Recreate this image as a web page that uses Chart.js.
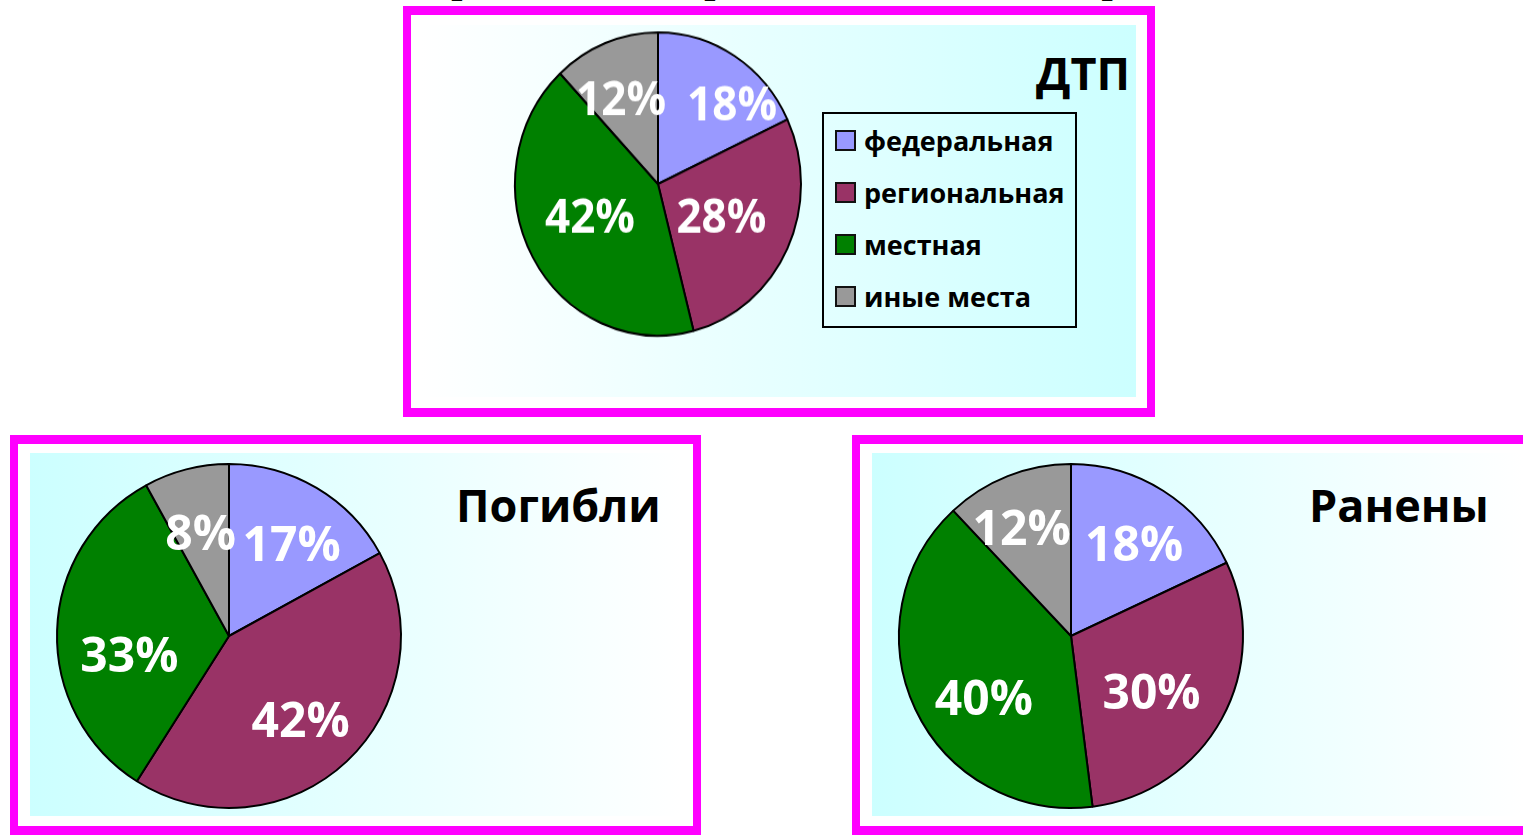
<!DOCTYPE html>
<html lang="ru">
<head>
<meta charset="utf-8">
<script src="https://cdn.jsdelivr.net/npm/chart.js@4.4.1/dist/chart.umd.min.js"></script>
<style>
  body { margin: 0; width: 1523px; height: 835px; overflow: hidden; background: #fff; position: relative; font-family: "Open Sans", sans-serif; }
  .box { position: absolute; box-sizing: border-box; border: solid #ff00ff; border-width: 9px 8px; }
  .panel { position: absolute; }
  .grad-r { background: linear-gradient(to right, #ffffff, #ccffff); }
  .grad-l { background: linear-gradient(to right, #ccffff, #ffffff); }
  canvas { position: absolute; }
  .title { position: absolute; font-weight: bold; font-size: 45px; line-height: 1; color: #000; white-space: nowrap; }
  .cut { position: absolute; font-family: "Liberation Serif", serif; font-weight: bold; font-size: 40px; line-height: 40px; height: 40px; white-space: nowrap; }
  #legend { position: absolute; left: 822px; top: 112px; width: 255px; height: 216px; box-sizing: border-box; border: 2px solid #000; }
  #legend .item { height: 52px; display: flex; align-items: center; font-weight: bold; font-size: 27px; color: #000; }
  #legend .sw { width: 17px; height: 17px; border: 2px solid #111; margin: 0 8px 0 11px; flex: none; }
</style>
</head>
<body>

<!-- заголовок, срезанный сверху -->
<div class="cut" style="right:361px; top:-41px;">Распределение аварийности по видам дорог</div>

<div class="box" style="left:403px; top:6px; width:752px; height:411px;"></div>
<div class="panel grad-r" style="left:421px; top:25px; width:715px; height:372px;"></div>

<div class="box" style="left:10px; top:435px; width:691px; height:400px;"></div>
<div class="panel grad-l" style="left:30px; top:453px; width:651px; height:363px;"></div>

<div class="box" style="left:852px; top:435px; width:700px; height:400px;"></div>
<div class="panel grad-l" style="left:872px; top:453px; width:651px; height:363px;"></div>

<canvas id="dtp" width="320" height="320" style="left:498px; top:24px; transform:scaleY(1.06); transform-origin:50% 50%;"></canvas>
<canvas id="pogibli" width="370" height="370" style="left:44px; top:451px;"></canvas>
<canvas id="raneny" width="370" height="370" style="left:886px; top:451px;"></canvas>

<div class="title" style="left:1036px; top:50px;">ДТП</div>
<div class="title" style="left:456px; top:482px;">Погибли</div>
<div class="title" style="left:1309px; top:482px;">Ранены</div>

<div id="legend"></div>

<script>
// =======================================================
// ДАННЫЕ
// =======================================================
const categories = ["федеральная", "региональная", "местная", "иные места"];
const dtpValues = [18, 28, 42, 12];
const pogibliValues = [17, 42, 33, 8];
const ranenyValues = [18, 30, 40, 12];

const colors = ["#9999ff", "#993366", "#008000", "#999999"];

// размещение подписей: доля радиуса и поворот (градусы) от середины сектора
const dtpLabelDist = [0.74, 0.49, 0.52, 0.62];
const dtpLabelShift = [12, 0, 5, -3];
const pogibliLabelDist = [0.65, 0.64, 0.59, 0.62];
const pogibliLabelShift = [3.5, 2.6, -12.7, -1];
const ranenyLabelDist = [0.65, 0.57, 0.62, 0.69];
const ranenyLabelShift = [2, 6, -10, -3];

// =======================================================
// ПОДПИСИ ПРОЦЕНТОВ
// =======================================================
const percentLabels = {
    id: "percentLabels",
    afterDatasetsDraw(chart, args, opts) {
        const ctx = chart.ctx;
        const meta = chart.getDatasetMeta(0);
        const values = chart.data.datasets[0].data;
        ctx.save();
        ctx.font = `bold ${opts.size}px "Open Sans"`;
        ctx.fillStyle = "#fff";
        ctx.textAlign = "center";
        ctx.textBaseline = "alphabetic";
        meta.data.forEach((arc, i) => {
            const p = arc.getProps(["x", "y", "startAngle", "endAngle", "outerRadius"], true);
            const a = (p.startAngle + p.endAngle) / 2 + opts.shift[i] * Math.PI / 180;
            const r = p.outerRadius * opts.dist[i];
            ctx.fillText(values[i] + "%", p.x + Math.cos(a) * r, p.y + Math.sin(a) * r + opts.size * 0.357);
        });
        ctx.restore();
    }
};

function crearPie(id, values, radius, size, dist, shift) {
    return new Chart(document.getElementById(id), {
        type: "pie",
        data: {
            labels: categories,
            datasets: [{
                data: values,
                backgroundColor: colors,
                borderColor: "#000",
                borderWidth: 2
            }]
        },
        options: {
            responsive: false,
            animation: false,
            radius: radius,
            layout: { padding: 0 },
            plugins: {
                legend: { display: false },
                tooltip: { enabled: false },
                percentLabels: { size, dist, shift }
            }
        },
        plugins: [percentLabels]
    });
}

const dtpChart = crearPie("dtp", dtpValues, 143, 44, dtpLabelDist, dtpLabelShift);
crearPie("pogibli", pogibliValues, 172, 48, pogibliLabelDist, pogibliLabelShift);
crearPie("raneny", ranenyValues, 172, 48, ranenyLabelDist, ranenyLabelShift);

// =======================================================
// ЛЕГЕНДА
// =======================================================
const legend = document.getElementById("legend");
legend.innerHTML = dtpChart.data.labels.map((label, i) =>
    `<div class="item"><span class="sw" style="background:${dtpChart.data.datasets[0].backgroundColor[i]}"></span>${label}</div>`
).join("");
</script>
</body>
</html>
